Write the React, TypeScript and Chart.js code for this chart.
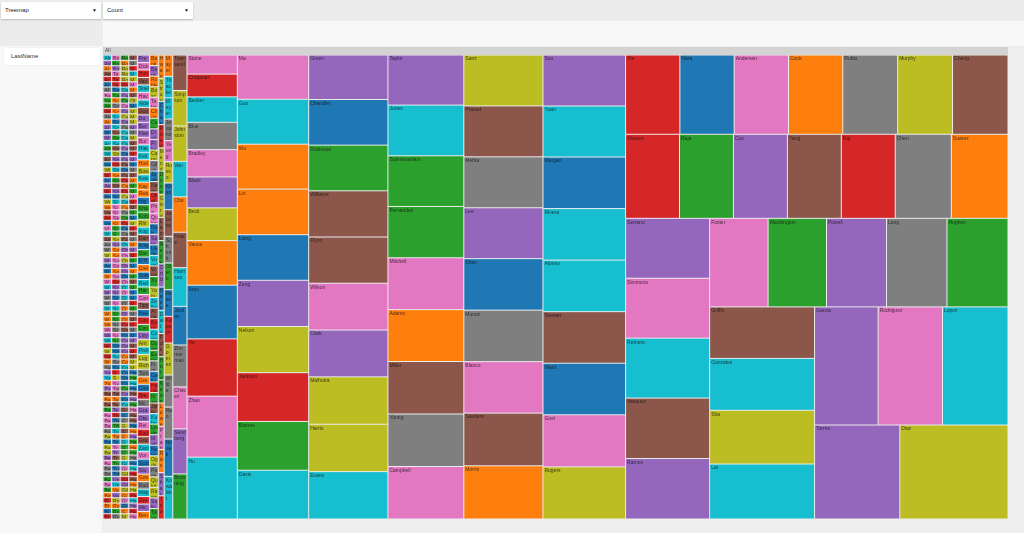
import React, { useEffect, useRef } from "react";
import { Chart, registerables } from "chart.js";

Chart.register(...registerables);

// ---------------- DATA ----------------
// Last names that occur once (the smallest cells, far left)
const NAMES_COUNT_1: string[] = `
Abbott Adler Alden Appleby Archer Aiken Alston Baxter Yoshida Ahmed
Winters Abrams Atwood Albright Walsh Whitfield Arnett Allison Wiley Arroyo
Vega Wiggins Wolfe Armstrong Ashby Webster Arias Wilkins Witt Vaughn
Ayers Valdez Vinson Waller Akers Ashford Watts Whitaker Weeks Avila
Warner Wade Wall Waters Weber Welch Wells West Wheeler Whitney
Wilcox Wilder Willis Wise Wood Woodard Wright Wyatt Yates York
Yoder Zamora Zuniga Bailey Baker Baldwin Ball Barber Barker Barr
Barrett Barton Bass Bates Bauer Bean Beard Bell Bennett Benson
Berry Best Bird Bishop Blackwell Blair Blake Bolton Bond Booker
Tanaka Tate Tatum Sawyer Saxon Schaefer Schmidt Schneider Schroeder Schultz
Schwartz Sears Sellers Sexton Shaffer Shannon Sharp Shaw Shelton Shepherd
Sherman Shields Short Silva Simon Sims Singleton Skinner Slater Sloan
Small Snider Snyder Solomon Sosa Soto Sparks Spears Spence Spencer
Stafford Stanley Stanton Stark Steele Stein Stephens Sterling Stevens Stokes
Stout Strickland Strong Sullivan Summers Sutton Swanson Sweeney Sykes Talbot
Talley Tanner Terrell Terry Thornton Thorpe Tillman Todd Tolbert Townes
Tran Travis Trevino Tucker Turner Tyler Underwood Upton Valencia Valentine
Rocha Rojas Rollins Roman Rosa Rosales Ross Roth Rowe Rowland
Cabrera Cain Calderon Caldwell Calhoun Callahan Camacho Cameron Cannon Cantrell
Cantu Cardenas Carey Carlson Carney Carpenter Carr Carrillo Carroll Carson
Carter Carver Case Casey Cash Castaneda Castillo Castro Cervantes Chambers
Chan Chaney Charles Chase Cherry Christensen Church Cisneros Clarke Clay
Clayton Clements Cleveland Cline Cobb Cochran Coffey Cohen Cole Coleman
Collier Collins Colon Combs Compton Conley Conner Conrad Contreras Cooley
Gaines Galloway Gamble Garner Garrett Garrison Garza Gates Gay Gentry
Gibbs Gibson Gilbert Gill Gillespie Gilmore Glass Glenn Glover Golden
Montgomery Moody Moon Moore Morales Moran Morrow Morse Moses Olsen
Mack Macias Madden Maddox Maldonado Malone Mann Manning Marks Marquez
Marsh Marshall Martin Mason Massey Mathews Mathis Matthews Maxwell Maynard
Mayo Mays McBride McCall McCarthy McClain McClure McConnell McCormick McCoy
McCray McCullough McDaniel McDowell McFarland McGee McGuire McIntosh McIntyre McKay
McKee McKenzie McKinney McKnight McLaughlin McLean McLeod McMahon McMillan McNeil
Hale Haley Hall Hamilton Hammond Hampton Hancock Haney Hansen Hanson
Hardin Harding Hardy Harmon Harper Harrell Hart Hartman Harvey Hatfield
Hawkins Hayden Hayes Haynes Hays Head Heath Hebert
`.trim().split(/\s+/);

// Last names that occur twice
const NAMES_COUNT_2: string[] = `
Prescott Dickson Hunt Vann Snell Havens Alderman Gonzaga Dumas Berg
Flasher Burke Hiatt Kelly Hodge Bowden Keane Kaye Reardon Higa
Khanna Kohler Rhine Kogan Daniels Knight Dreager D'Hondt Creighton Solano
Reddick Haruki Corrigan Tipping Heer Conway Connor Lloyd Arnold Pishko
Lugo Richards Tompkins Greer Clesson Brennan McDonald Graves Otani Reid
Rodin Grady Zanini Vorhees Scott Stuart Gostin Rudd Mapes Grummond
Michaels Bender Banks Bankole Robles Bosch Tahir Chou Cerny Dixit
Pike Caputo Giles Joshi Nagy Okafor Pham Quinn Rahman Sato
Ueda Vogel Weiss Xu Yamamoto Zeller Aldana Borges Costa Duarte
Esposito Fiore Gallo Hanley Ibarra Jaffe Kuhn Lindqvist Mahoney Nolan
Ogden Pacheco Quintero Rasmussen Salinas Tolentino
`.trim().split(/\s+/);

// Last names that occur three times
const NAMES_COUNT_3: string[] = `
Hwang Stroud Chaudhry Pineda Mendez Dunn Giordano Lamb Reyes Ortiz
Nash Dalton Foley Hurst Kemp Lowe Pratt Rios Sharma Tso
`.trim().split(/\s+/);

// Larger last names with their counts
const LAST_NAMES: string[] = [
  "Mayer", "Thackeray", "Meyers", "Jovanovic", "Yeung", "Russo", "Khan", "Jacobs",
  "Schmitt", "Otero", "Reese", "Kapoor", "Gomez", "Wilde", "Rao", "Novak", "Kowalski",
  "Townsend", "Simpson", "Johnston", "Van", "Cho", "Howe", "Harrison", "Jordan", "Zimmerman",
  "Chavez", "Sandberg", "Browning",
  "Stone", "Chapman", "Becker", "Blue", "Bradley", "Black", "Beck", "Vance", "Arun", "He", "Zhao", "Hu",
  "Ma", "Guo", "Wu", "Lin", "Liang", "Zeng", "Nelson", "Jackson", "Barnes", "Davis",
  "Green", "Chandler", "Robinson", "Williams", "Flynn", "Wilson", "Clark", "Malhotra", "Harris", "Evans",
  "Taylor", "Jones", "Subramaniam", "Fernandez", "Mitchell", "Adams", "Miller", "Young", "Campbell",
  "Sanz", "Prasad", "Mehta", "Lee", "Shen", "Munoz", "Blanco", "Sanders", "Morris",
  "Sun", "Yuan", "Morgan", "Rivera", "Alonso", "Stewart", "Ward", "Goel", "Rogers",
  "Xie", "Nara", "Andersen", "Cook", "Rubio", "Murphy", "Cheng",
  "Alvarez", "Raja", "Cox", "Yang", "Raj", "Chen", "Suarez",
  "Serrano", "Simmons", "Romero", "Vasquez", "Ramos",
  "Foster", "Washington", "Powell", "Long", "Hughes",
  "Griffin", "Gonzales", "Sha", "Lai",
  "Garcia", "Rodriguez", "Lopez", "Torres", "Diaz",
];
const COUNTS: number[] = [
  4, 4, 4, 4, 4, 4, 5, 5,
  5, 5, 5, 5, 6, 6, 6, 7, 8,
  11, 11, 11, 11, 11, 11, 12, 12, 13,
  13, 14, 14,
  21, 25, 28, 30, 30, 34, 36, 49, 59, 63, 67, 68,
  69, 70, 70, 71, 71, 72, 72, 76, 76, 76,
  77, 79, 79, 80, 80, 81, 81, 82, 82, 82,
  83, 84, 84, 85, 86, 86, 87, 87, 87,
  88, 88, 88, 88, 89, 89, 89, 91, 92,
  92, 92, 93, 93, 93, 93, 93, 94, 94,
  94, 94, 94, 94, 95, 95, 96,
  99, 99, 99, 99, 99, 103, 104,
  110, 110, 110, 111, 111,
  113, 113, 116, 117, 118,
  118, 119, 123, 126,
  164, 166, 169, 175, 222,
];

// ---------------- STYLE ----------------
const CATEGORY10: Record<string, string> = {
  blue: "#1f77b4", orange: "#ff7f0e", green: "#2ca02c", red: "#d62728", purple: "#9467bd",
  brown: "#8c564b", pink: "#e377c2", grey: "#7f7f7f", olive: "#bcbd22", cyan: "#17becf",
};
const PALETTE_KEYS = ["blue", "orange", "green", "red", "purple", "brown", "pink", "grey", "olive", "cyan"];
const LAST_NAME_COLORS: string[] = [
  "orange", "cyan", "cyan", "grey", "pink", "olive", "blue", "brown",
  "grey", "green", "blue", "red", "olive", "grey", "grey", "blue", "cyan",
  "brown", "olive", "olive", "cyan", "orange", "brown", "cyan", "blue", "grey",
  "pink", "purple", "green",
  "pink", "red", "cyan", "grey", "pink", "purple", "olive", "orange", "blue", "red", "pink", "cyan",
  "pink", "cyan", "orange", "orange", "blue", "purple", "olive", "red", "green", "cyan",
  "purple", "blue", "green", "brown", "brown", "pink", "purple", "olive", "olive", "cyan",
  "purple", "cyan", "green", "green", "pink", "orange", "brown", "grey", "pink",
  "olive", "brown", "grey", "purple", "blue", "grey", "pink", "brown", "orange",
  "purple", "cyan", "blue", "cyan", "cyan", "brown", "blue", "pink", "olive",
  "red", "blue", "pink", "orange", "grey", "olive", "brown",
  "red", "green", "purple", "brown", "red", "grey", "orange",
  "purple", "pink", "cyan", "brown", "purple",
  "pink", "green", "purple", "grey", "green",
  "brown", "cyan", "olive", "cyan",
  "purple", "pink", "cyan", "purple", "olive",
];

const TREE_W = 905; // extent of the x scale (treemap width)
const TREE_H = 464; // extent of the y scale (treemap height)
const HEADER_H = 8;
const GAP = 1;
const PAD = 1;
const LABEL_SIZE = 5;
const LINE_H = 6;
const CANVAS_FONT = '"Liberation Sans", Arial, sans-serif';
const TEXT_COLOR = "rgba(20,20,20,0.78)";
const UI_FONT = '"Liberation Sans", Arial, sans-serif';

type Item = { name: string; value: number; color: string; area: number; x: number; y: number; dx: number; dy: number };

function hashColor(name: string): string {
  let h = 17;
  for (const ch of name) h = (h * 131 + ch.charCodeAt(0) * 7) % 1000003;
  return CATEGORY10[PALETTE_KEYS[h % 10]];
}

// d3 v3 style squarified treemap (golden ratio), smallest values laid out first
function layout(): Item[] {
  const items: Item[] = [];
  const add = (name: string, value: number, color: string) =>
    items.push({ name, value, color, area: 0, x: 0, y: 0, dx: 0, dy: 0 });
  NAMES_COUNT_1.forEach((n) => add(n, 1, hashColor(n)));
  NAMES_COUNT_2.forEach((n) => add(n, 2, hashColor(n)));
  NAMES_COUNT_3.forEach((n) => add(n, 3, hashColor(n)));
  LAST_NAMES.forEach((n, i) => add(n, COUNTS[i], CATEGORY10[LAST_NAME_COLORS[i]]));

  const queue = items.slice().sort((a, b) => a.value - b.value);
  const total = queue.reduce((s, d) => s + d.value, 0);
  const k = (TREE_W * TREE_H) / total;
  queue.forEach((d) => (d.area = d.value * k));
  const ratio = 0.5 * (1 + Math.sqrt(5));
  const rect = { x: 0, y: 0, dx: TREE_W, dy: TREE_H };

  const worst = (row: Item[], s0: number, u: number) => {
    let rmax = 0, rmin = Infinity;
    for (const r of row) { if (r.area < rmin) rmin = r.area; if (r.area > rmax) rmax = r.area; }
    const s = s0 * s0, uu = u * u;
    return s ? Math.max((uu * rmax * ratio) / s, s / (uu * rmin * ratio)) : Infinity;
  };
  const position = (row: Item[], area: number, u: number, flush: boolean) => {
    let x = rect.x, y = rect.y;
    let v = u ? area / u : 0;
    let o: Item | null = null;
    if (u === rect.dx) {
      if (flush || v > rect.dy) v = rect.dy;
      for (o of row) {
        o.x = x; o.y = y; o.dy = v;
        o.dx = Math.min(rect.x + rect.dx - x, v ? o.area / v : 0);
        x += o.dx;
      }
      if (o) o.dx += rect.x + rect.dx - x;
      rect.y += v; rect.dy -= v;
    } else {
      if (flush || v > rect.dx) v = rect.dx;
      for (o of row) {
        o.x = x; o.y = y; o.dx = v;
        o.dy = Math.min(rect.y + rect.dy - y, v ? o.area / v : 0);
        y += o.dy;
      }
      if (o) o.dy += rect.y + rect.dy - y;
      rect.x += v; rect.dx -= v;
    }
  };

  let row: Item[] = [];
  let rowArea = 0;
  let best = Infinity;
  let u = Math.min(rect.dx, rect.dy);
  let i = 0;
  while (i < queue.length) {
    const child = queue[i];
    row.push(child);
    rowArea += child.area;
    const score = worst(row, rowArea, u);
    if (score <= best) {
      i++;
      best = score;
    } else {
      row.pop();
      rowArea -= child.area;
      position(row, rowArea, u, false);
      u = Math.min(rect.dx, rect.dy);
      row = [];
      rowArea = 0;
      best = Infinity;
    }
  }
  if (row.length) position(row, rowArea, u, true);
  return queue;
}

function wrapChars(ctx: CanvasRenderingContext2D, text: string, maxW: number): string[] {
  const lines: string[] = [];
  let cur = "";
  for (const ch of text) {
    if (cur && ctx.measureText(cur + ch).width > maxW) {
      lines.push(cur);
      cur = ch;
    } else cur += ch;
  }
  if (cur) lines.push(cur);
  return lines;
}

const treemapPlugin = {
  id: "treemapCells",
  beforeDatasetsDraw(chart: any) {
    const { ctx } = chart;
    const xs = chart.scales.x;
    const ys = chart.scales.y;
    const cells = chart.data.datasets[0].data as any[];
    ctx.save();
    ctx.fillStyle = "#d3d3d3";
    ctx.fillRect(0, 0, chart.width, HEADER_H);
    ctx.fillStyle = "#ececec";
    ctx.fillRect(0, HEADER_H, chart.width, chart.height - HEADER_H);
    ctx.font = `${LABEL_SIZE}px ${CANVAS_FONT}`;
    ctx.textBaseline = "top";
    ctx.fillStyle = TEXT_COLOR;
    ctx.fillText("All", 2, 1.5);
    for (const c of cells) {
      const l = xs.getPixelForValue(c.x0);
      const r = xs.getPixelForValue(c.x1);
      const t = ys.getPixelForValue(c.y0);
      const b = ys.getPixelForValue(c.y1);
      const x = l + GAP / 2;
      const y = t + GAP / 2;
      const w = Math.max(0, r - l - GAP);
      const h = Math.max(0, b - t - GAP);
      ctx.fillStyle = c.color;
      ctx.fillRect(x, y, w, h);
      ctx.save();
      ctx.beginPath();
      ctx.rect(x, y, w, h);
      ctx.clip();
      ctx.fillStyle = TEXT_COLOR;
      const lines = wrapChars(ctx, c.name, Math.max(1, w - PAD));
      for (let j = 0; j < lines.length; j++) {
        const ty = y + PAD + j * LINE_H;
        if (ty > y + h) break;
        ctx.fillText(lines[j], x + PAD, ty);
      }
      ctx.restore();
    }
    ctx.restore();
  },
};

function Select({ left, width, label }: { left: number; width: number; label: string }) {
  return (
    <div
      style={{
        position: "absolute", left, top: 2, width, height: 17, background: "#ffffff",
        boxShadow: "0 1px 2px rgba(0,0,0,0.22)", borderRadius: 1,
      }}
    >
      <span style={{ position: "absolute", left: 4, top: 5, fontSize: 6, color: "#222", lineHeight: "7px" }}>{label}</span>
      <span style={{ position: "absolute", right: 4, top: 5, fontSize: 5, color: "#222", lineHeight: "6px" }}>▼</span>
    </div>
  );
}

export default function App() {
  const canvasRef = useRef<HTMLCanvasElement | null>(null);

  useEffect(() => {
    const prev = document.body.style.margin;
    document.body.style.margin = "0";
    const cells = layout().map((d) => ({
      x: d.x + d.dx / 2,
      y: d.y + d.dy / 2,
      x0: d.x, x1: d.x + d.dx, y0: d.y, y1: d.y + d.dy,
      name: d.name, color: d.color, count: d.value,
    }));
    const chart = new Chart(canvasRef.current as HTMLCanvasElement, {
      type: "scatter",
      data: { datasets: [{ label: "Count", data: cells as any, pointRadius: 0, pointHoverRadius: 0 }] },
      options: {
        animation: false,
        responsive: true,
        maintainAspectRatio: false,
        events: [],
        layout: { padding: { top: HEADER_H, left: 0, right: 0, bottom: 0 } },
        scales: {
          x: { type: "linear", min: 0, max: TREE_W, display: false },
          y: { type: "linear", min: 0, max: TREE_H, reverse: true, display: false },
        },
        plugins: { legend: { display: false }, tooltip: { enabled: false } },
      },
      plugins: [treemapPlugin],
    });
    return () => {
      chart.destroy();
      document.body.style.margin = prev;
    };
  }, []);

  return (
    <div style={{ position: "relative", width: 1024, height: 533, background: "#eeeeee", overflow: "hidden", fontFamily: UI_FONT }}>
      <div style={{ position: "absolute", left: 0, top: 0, width: 1024, height: 21, background: "#ececec" }} />
      <div style={{ position: "absolute", left: 0, top: 21, width: 102, height: 25, background: "#ececec" }} />
      <div style={{ position: "absolute", left: 103, top: 21, width: 921, height: 25, background: "#f8f8f8" }} />
      <div style={{ position: "absolute", left: 0, top: 46, width: 102, height: 487, background: "#f8f8f8" }} />
      <Select left={1} width={100} label="Treemap" />
      <Select left={103} width={90} label="Count" />
      <div
        style={{
          position: "absolute", left: 4, top: 48, width: 96, height: 17, background: "#ffffff",
          boxShadow: "0 0 1px rgba(0,0,0,0.12)",
        }}
      >
        <span style={{ position: "absolute", left: 7, top: 5, fontSize: 6, color: "#333", lineHeight: "7px" }}>LastName</span>
      </div>
      <div style={{ position: "absolute", left: 103, top: 47, width: TREE_W, height: TREE_H + HEADER_H }}>
        <canvas ref={canvasRef} />
      </div>
    </div>
  );
}
